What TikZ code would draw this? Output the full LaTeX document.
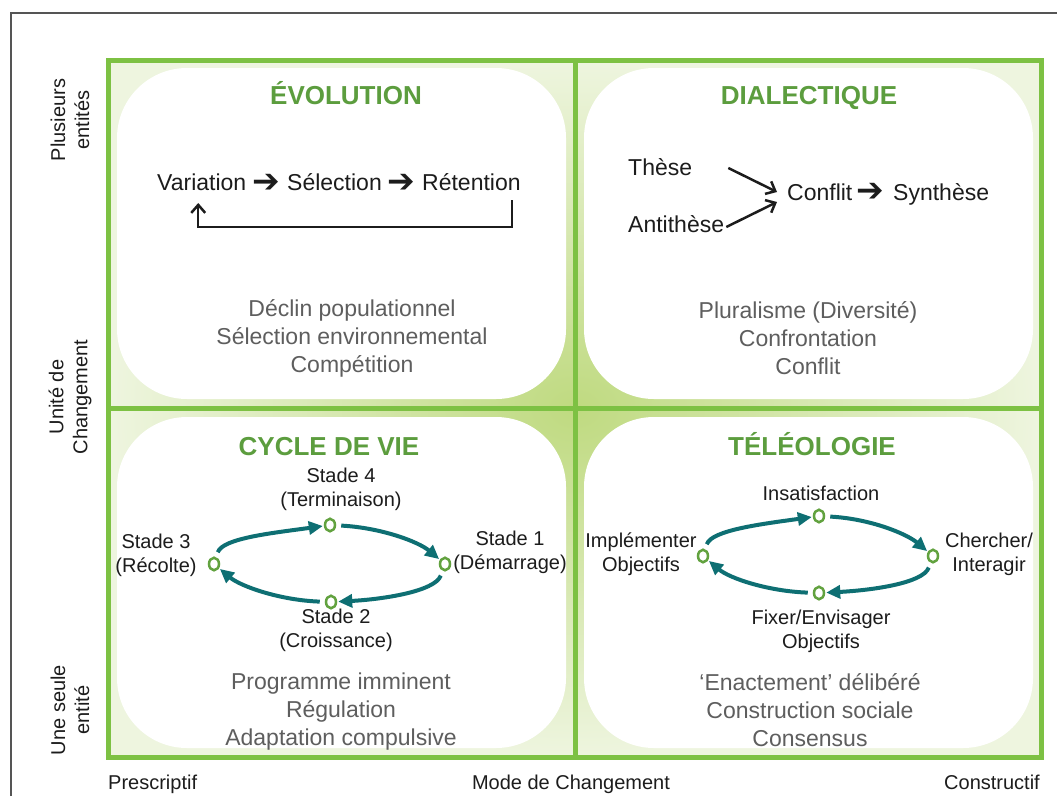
\documentclass[tikz,border=0pt]{standalone}
\usepackage{fontspec}
\setmainfont{Liberation Sans}
\newfontfamily\symfont{DejaVu Sans}
\usetikzlibrary{arrows.meta,shapes.geometric}
\definecolor{framegray}{HTML}{555555}
\definecolor{gridgreen}{HTML}{7DC143}
\definecolor{headgreen}{HTML}{5C9D3E}
\definecolor{glowgreen}{HTML}{BFDA80}
\definecolor{palegreen}{HTML}{EEF5DF}
\definecolor{cycleteal}{HTML}{0E6F73}
\definecolor{dotgreen}{HTML}{62A23F}
\definecolor{mutedgray}{HTML}{5E5E5E}
\definecolor{inkblack}{HTML}{1C1C1C}

\begin{document}
\begin{tikzpicture}[x=1pt,y=1pt]
\tikzstyle{every node}+=[inner sep=0pt]
\tikzstyle{heading}=[font=\fontsize{26}{30}\selectfont\bfseries, text=headgreen, anchor=base]
\tikzstyle{plain}=[font=\fontsize{23}{28}\selectfont, text=inkblack, anchor=base west]
\tikzstyle{glyph}=[font=\symfont\fontsize{33}{36}\selectfont, text=inkblack, anchor=center]
\tikzstyle{muted}=[font=\fontsize{23}{28}\selectfont, text=mutedgray, align=center]
\tikzstyle{stagelbl}=[font=\fontsize{20}{24}\selectfont, text=inkblack, align=center]
\tikzstyle{axislbl}=[font=\fontsize{20}{24}\selectfont, text=inkblack, align=center]
\tikzstyle{stagept}=[ellipse, draw=dotgreen, line width=2.5pt, fill=white, minimum width=10pt, minimum height=12.5pt]
\tikzstyle{cyclearrow}=[cycleteal, line width=4pt, -{Triangle[length=14pt,width=13pt]}, shorten <=5pt, shorten >=1pt]
\tikzstyle{barbarrow}=[inkblack, line width=2.5pt, -{Straight Barb[length=8pt,width=14pt]}]
\tikzstyle{quadbox}=[fill=white, rounded corners=70pt]
\tikzstyle{gridline}=[gridgreen, line width=5pt]
\useasboundingbox (0,0) rectangle (1057,-796);
% frame and quadrants
\draw [framegray, line width=2.5pt] (11,-796) -- (11,-13) -- (1057,-13);
\shade [inner color=glowgreen, outer color=palegreen] (108,-60) rectangle (1041,-757);
\fill [quadbox] (117,-68) rectangle (566,-399);
\fill [quadbox] (584,-68) rectangle (1033,-399);
\fill [quadbox] (117,-417) rectangle (566,-748);
\fill [quadbox] (584,-417) rectangle (1033,-748);
\draw [gridline] (108,-60) rectangle (1041,-757);
\draw [gridline] (575,-60) -- (575,-757);
\draw [gridline] (108,-408) -- (1041,-408);
% axes
\node [axislbl, rotate=90] (many) at (70,-120) {Plusieurs\\entités};
\node [axislbl, rotate=90] (unit) at (70,-397) {Unité de\\Changement};
\node [axislbl, rotate=90] (single) at (70,-710) {Une seule\\entité};
\node [axislbl, anchor=base west] (presc) at (108,-789) {Prescriptif};
\node [axislbl, anchor=base] (mode) at (571,-789) {Mode de Changement};
\node [axislbl, anchor=base east] (constr) at (1040,-789) {Constructif};
% evolution
\node [heading] (evo) at (346,-104) {ÉVOLUTION};
\node [plain] (var) at (157,-190) {Variation};
\node [glyph] (g1) at (266.5,-183) {➔};
\node [plain] (sel) at (287,-190) {Sélection};
\node [glyph] (g2) at (401.5,-183) {➔};
\node [plain] (ret) at (422,-190) {Rétention};
\draw [barbarrow] ([xshift=-9pt,yshift=-10pt]ret.base east) -- ++(0,-27) -| ([xshift=-3.5pt,yshift=-13pt]var.base);
\node [muted] (evonote) at (352,-338) {Déclin populationnel\\Sélection environnemental\\Compétition};
% dialectique
\node [heading] (dia) at (809,-104) {DIALECTIQUE};
\node [plain] (these) at (628,-175) {Thèse};
\node [plain] (anti) at (628,-232) {Antithèse};
\node [plain] (conf) at (787,-200) {Conflit};
\node [glyph] (g3) at (870.5,-192) {➔};
\node [plain] (synth) at (893,-200) {Synthèse};
\draw [barbarrow] ([xshift=36pt,yshift=7pt]these.base east) -- ([xshift=-10pt,yshift=8pt]conf.base west);
\draw [barbarrow] ([xshift=2pt,yshift=5pt]anti.base east) -- ([xshift=-10pt,yshift=-2pt]conf.base west);
\node [muted] (dianote) at (808,-338) {Pluralisme (Diversité)\\Confrontation\\Conflit};
% cycle de vie
\node [heading] (cyc) at (329,-455) {CYCLE DE VIE};
\node [stagept] (s4) at (330,-525) {};
\node [stagept] (s1) at (445,-564) {};
\node [stagept] (s2) at (331,-602) {};
\node [stagept] (s3) at (214,-564) {};
\node [stagelbl] (s4lbl) at (341,-489) {Stade 4\\(Terminaison)};
\node [stagelbl] (s1lbl) at (510,-552) {Stade 1\\(Démarrage)};
\node [stagelbl] (s3lbl) at (156,-555) {Stade 3\\(Récolte)};
\node [stagelbl] (s2lbl) at (336,-630) {Stade 2\\(Croissance)};
\draw [cyclearrow] (s3) to[out=72,in=188,out distance=20pt,in distance=50pt] (s4);
\draw [cyclearrow] (s4) to[out=-3,in=140,out distance=45pt,in distance=28pt] (s1);
\draw [cyclearrow] (s1) to[out=-110,in=3,out distance=22pt,in distance=45pt] (s2);
\draw [cyclearrow] (s2) to[out=178,in=-40,out distance=45pt,in distance=28pt] (s3);
\node [muted] (cycnote) at (341,-712) {Programme imminent\\Régulation\\Adaptation compulsive};
% teleologie
\node [heading] (tel) at (812,-455) {TÉLÉOLOGIE};
\node [stagept] (t0) at (819,-516) {};
\node [stagept] (t1) at (933,-556) {};
\node [stagept] (t2) at (819,-593) {};
\node [stagept] (t3) at (703,-556) {};
\node [stagelbl] (t0lbl) at (821,-493) {Insatisfaction};
\node [stagelbl] (t1lbl) at (989,-554) {Chercher/\\Interagir};
\node [stagelbl] (t2lbl) at (821,-631) {Fixer/Envisager\\Objectifs};
\node [stagelbl] (t3lbl) at (641,-554) {Implémenter\\Objectifs};
\draw [cyclearrow] (t3) to[out=72,in=188,out distance=20pt,in distance=50pt] (t0);
\draw [cyclearrow] (t0) to[out=-3,in=140,out distance=45pt,in distance=28pt] (t1);
\draw [cyclearrow] (t1) to[out=-110,in=3,out distance=22pt,in distance=45pt] (t2);
\draw [cyclearrow] (t2) to[out=178,in=-40,out distance=45pt,in distance=28pt] (t3);
\node [muted] (telnote) at (810,-710) {‘Enactement’ délibéré\\Construction sociale\\Consensus};
\end{tikzpicture}
\end{document}
